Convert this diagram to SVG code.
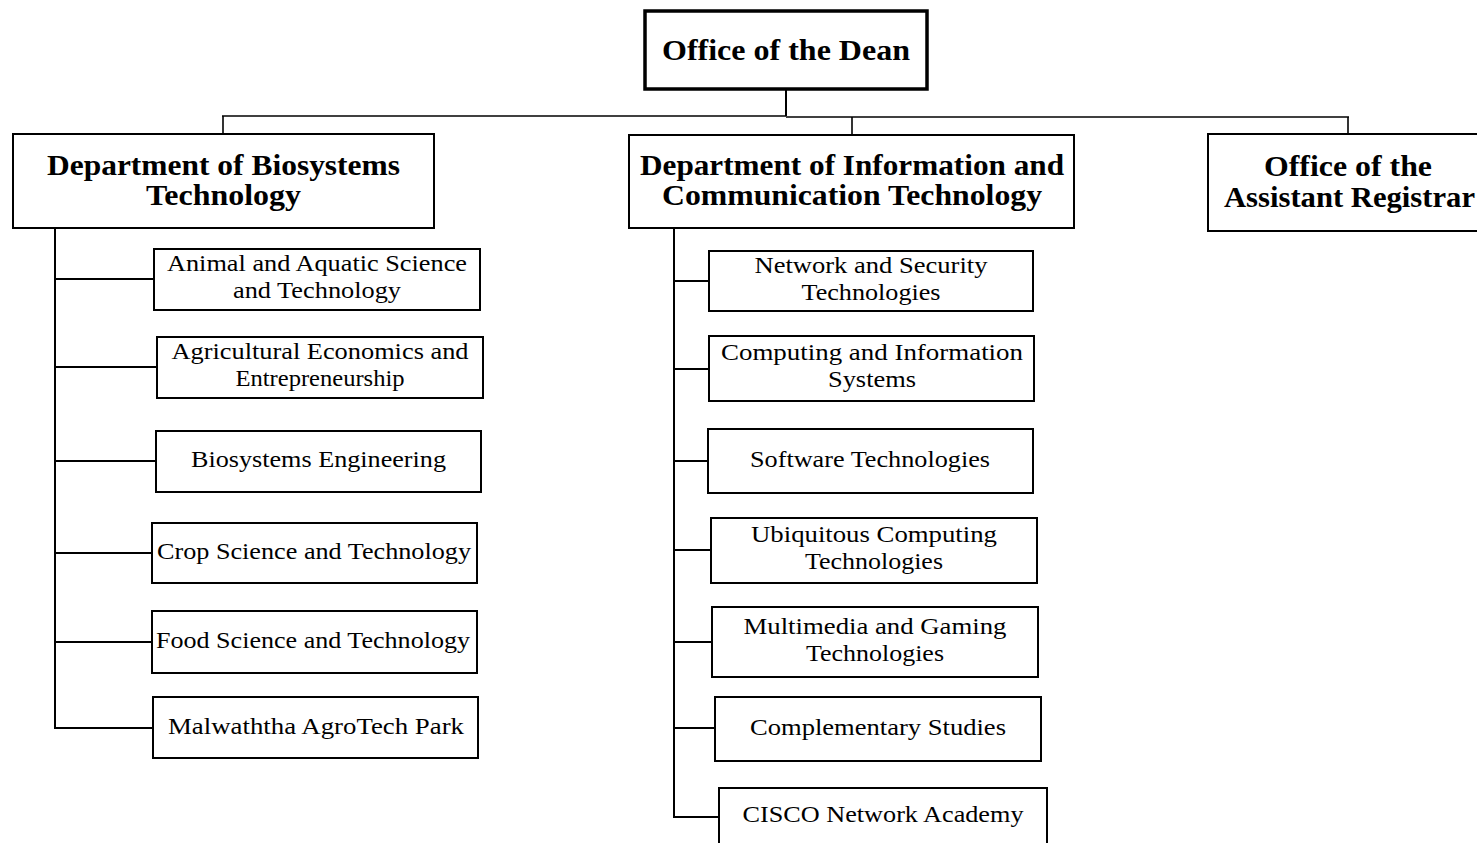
<svg xmlns="http://www.w3.org/2000/svg" width="1477" height="843" viewBox="0 0 1477 843">
<style>
.bg{fill:#fff}
.box{fill:#fff;stroke:#000;stroke-width:2}
.dean{fill:#fff;stroke:#000;stroke-width:3.5}
.h{font-family:"Liberation Serif","Times New Roman",serif;font-weight:bold;font-size:29px;fill:#000;text-anchor:middle}
.t{font-family:"Liberation Serif","Times New Roman",serif;font-size:23px;fill:#000;text-anchor:middle}
.c line{stroke:#000;stroke-width:2;fill:none}
.c .bus{stroke-width:1.6}
</style>
<rect class="bg" x="0" y="0" width="1477" height="843"/>
<g id="connectors" class="c">
<line x1="786" y1="90" x2="786" y2="116"/>
<line class="bus" x1="222" y1="116" x2="786" y2="116"/>
<line class="bus" x1="786" y1="117" x2="1349" y2="117"/>
<line class="bus" x1="223" y1="116" x2="223" y2="134"/>
<line class="bus" x1="852" y1="117" x2="852" y2="135"/>
<line class="bus" x1="1348" y1="117" x2="1348" y2="134"/>
<line x1="55" y1="228" x2="55" y2="729"/>
<line x1="54" y1="279" x2="154" y2="279"/>
<line x1="54" y1="367" x2="157" y2="367"/>
<line x1="54" y1="461" x2="156" y2="461"/>
<line x1="54" y1="553" x2="152" y2="553"/>
<line x1="54" y1="642" x2="152" y2="642"/>
<line x1="54" y1="728" x2="153" y2="728"/>
<line x1="674" y1="228" x2="674" y2="818"/>
<line x1="673" y1="281" x2="709" y2="281"/>
<line x1="673" y1="369" x2="709" y2="369"/>
<line x1="673" y1="461" x2="708" y2="461"/>
<line x1="673" y1="550" x2="711" y2="550"/>
<line x1="673" y1="642" x2="712" y2="642"/>
<line x1="673" y1="728" x2="715" y2="728"/>
<line x1="673" y1="817" x2="719" y2="817"/>
</g>
<g id="dean">
<rect class="dean" x="645" y="11" width="282" height="78"/>
<text class="h" x="786" y="60" textLength="248" lengthAdjust="spacingAndGlyphs">Office of the Dean</text>
</g>
<g id="dept-bst">
<rect class="box" x="13" y="134" width="421" height="94"/>
<text class="h" x="223.5" y="175" textLength="353" lengthAdjust="spacingAndGlyphs">Department of Biosystems</text>
<text class="h" x="223.5" y="205" textLength="155" lengthAdjust="spacingAndGlyphs">Technology</text>
</g>
<g id="dept-ict">
<rect class="box" x="629" y="135" width="445" height="93"/>
<text class="h" x="852" y="175" textLength="424" lengthAdjust="spacingAndGlyphs">Department of Information and</text>
<text class="h" x="852" y="205" textLength="380" lengthAdjust="spacingAndGlyphs">Communication Technology</text>
</g>
<g id="registrar">
<rect class="box" x="1208" y="134" width="290" height="97"/>
<text class="h" x="1348" y="176" textLength="168" lengthAdjust="spacingAndGlyphs">Office of the</text>
<text class="h" x="1349.5" y="207" textLength="251" lengthAdjust="spacingAndGlyphs">Assistant Registrar</text>
</g>
<g id="bst-animal">
<rect class="box" x="154" y="249" width="326" height="61"/>
<text class="t" x="317" y="271" textLength="300" lengthAdjust="spacingAndGlyphs">Animal and Aquatic Science</text>
<text class="t" x="317" y="298" textLength="168" lengthAdjust="spacingAndGlyphs">and Technology</text>
</g>
<g id="bst-agri">
<rect class="box" x="157" y="337" width="326" height="61"/>
<text class="t" x="320" y="359" textLength="297" lengthAdjust="spacingAndGlyphs">Agricultural Economics and</text>
<text class="t" x="320" y="386" textLength="169" lengthAdjust="spacingAndGlyphs">Entrepreneurship</text>
</g>
<g id="bst-eng">
<rect class="box" x="156" y="431" width="325" height="61"/>
<text class="t" x="318.5" y="467" textLength="255" lengthAdjust="spacingAndGlyphs">Biosystems Engineering</text>
</g>
<g id="bst-crop">
<rect class="box" x="152" y="523" width="325" height="60"/>
<text class="t" x="314" y="559" textLength="314" lengthAdjust="spacingAndGlyphs">Crop Science and Technology</text>
</g>
<g id="bst-food">
<rect class="box" x="152" y="611" width="325" height="62"/>
<text class="t" x="313" y="648" textLength="314" lengthAdjust="spacingAndGlyphs">Food Science and Technology</text>
</g>
<g id="bst-park">
<rect class="box" x="153" y="697" width="325" height="61"/>
<text class="t" x="316" y="734" textLength="296" lengthAdjust="spacingAndGlyphs">Malwaththa AgroTech Park</text>
</g>
<g id="ict-net">
<rect class="box" x="709" y="251" width="324" height="60"/>
<text class="t" x="871" y="272.5" textLength="233" lengthAdjust="spacingAndGlyphs">Network and Security</text>
<text class="t" x="871" y="299.5" textLength="139" lengthAdjust="spacingAndGlyphs">Technologies</text>
</g>
<g id="ict-cis">
<rect class="box" x="709" y="336" width="325" height="65"/>
<text class="t" x="872" y="360" textLength="302" lengthAdjust="spacingAndGlyphs">Computing and Information</text>
<text class="t" x="872" y="387" textLength="88" lengthAdjust="spacingAndGlyphs">Systems</text>
</g>
<g id="ict-soft">
<rect class="box" x="708" y="429" width="325" height="64"/>
<text class="t" x="870" y="467" textLength="240" lengthAdjust="spacingAndGlyphs">Software Technologies</text>
</g>
<g id="ict-ubi">
<rect class="box" x="711" y="518" width="326" height="65"/>
<text class="t" x="874" y="542" textLength="246" lengthAdjust="spacingAndGlyphs">Ubiquitous Computing</text>
<text class="t" x="874" y="569" textLength="138" lengthAdjust="spacingAndGlyphs">Technologies</text>
</g>
<g id="ict-mm">
<rect class="box" x="712" y="607" width="326" height="70"/>
<text class="t" x="875" y="633.5" textLength="263" lengthAdjust="spacingAndGlyphs">Multimedia and Gaming</text>
<text class="t" x="875" y="660.5" textLength="138" lengthAdjust="spacingAndGlyphs">Technologies</text>
</g>
<g id="ict-comp">
<rect class="box" x="715" y="697" width="326" height="64"/>
<text class="t" x="878" y="735" textLength="256" lengthAdjust="spacingAndGlyphs">Complementary Studies</text>
</g>
<g id="ict-cisco">
<rect class="box" x="719" y="788" width="328" height="70"/>
<text class="t" x="883" y="822" textLength="281" lengthAdjust="spacingAndGlyphs">CISCO Network Academy</text>
</g>
</svg>
